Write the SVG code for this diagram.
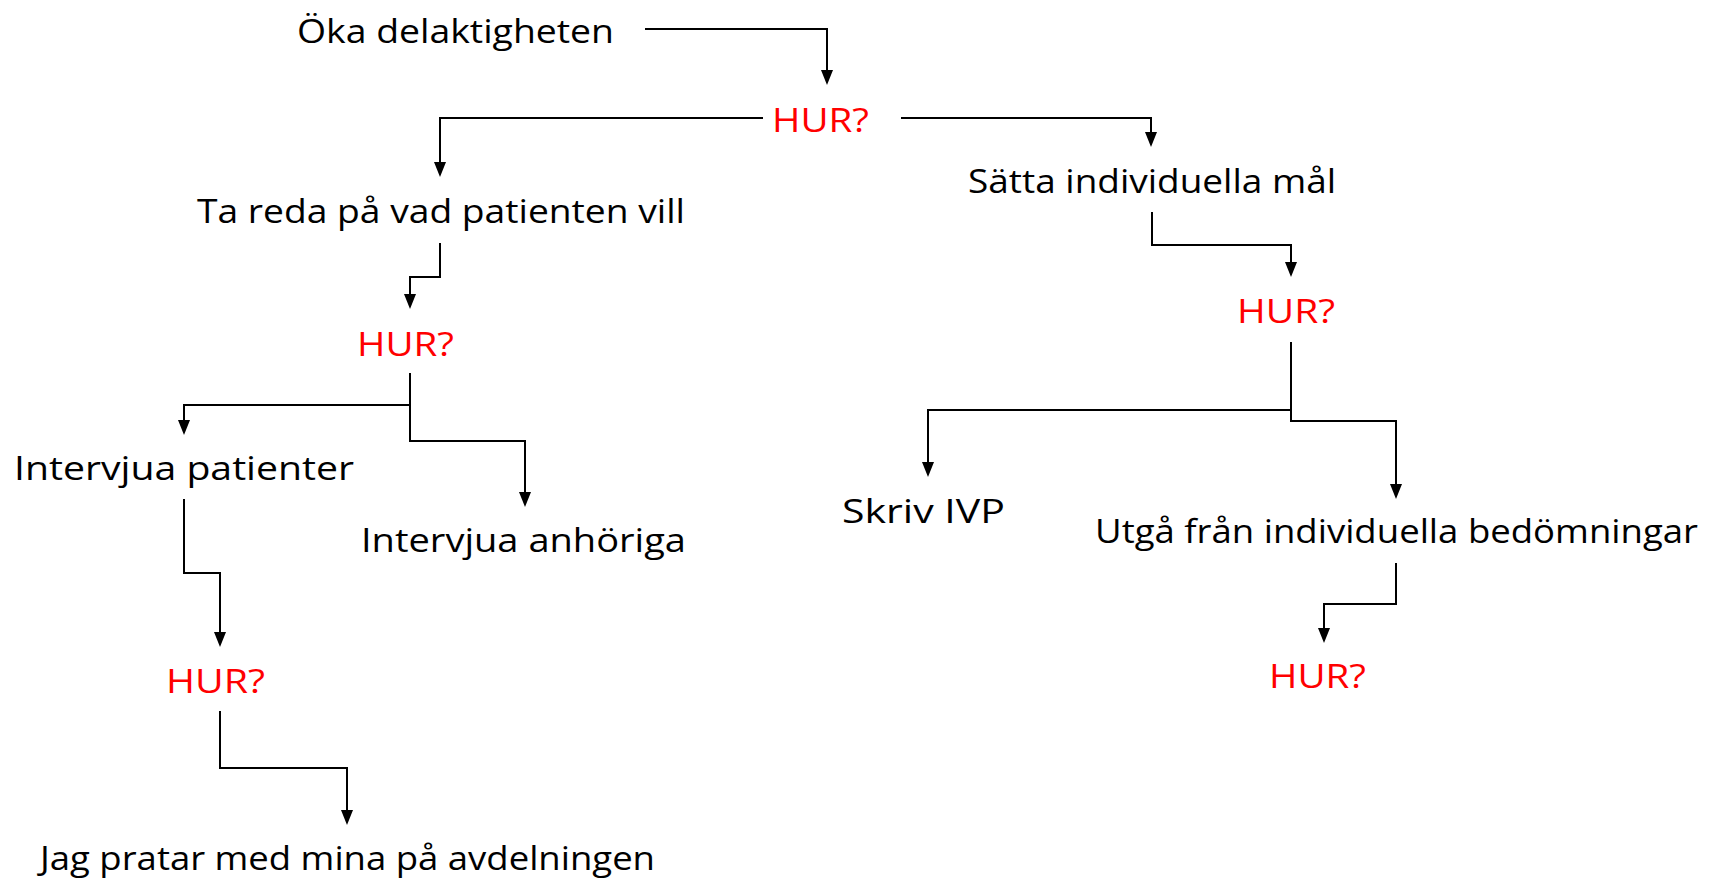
<svg xmlns="http://www.w3.org/2000/svg" width="1710" height="881" viewBox="0 0 1710 881">
  <style>
    .lbl { font-family: "Comic Sans MS", "Open Sans", "Noto Sans", sans-serif; font-size: 32px; fill: #000000; }
    .hur { font-family: "Comic Sans MS", "Open Sans", "Noto Sans", sans-serif; font-size: 32px; fill: #FF0000; }
    .wire { fill: none; stroke: #000000; stroke-width: 2; }
  </style>
  <defs>
    <!-- downward arrowhead, tip at (0,0) -->
    <path id="head" d="M-6,-15 L6,-15 L0,0 Z" fill="#000000"/>
  </defs>
  <rect width="1710" height="881" fill="#FFFFFF"/>

  <!-- connectors -->
  <g id="connectors">
    <path class="wire" d="M645,29 H827 V70"/>
    <path class="wire" d="M763,118 H440 V162"/>
    <path class="wire" d="M901,118 H1151 V132"/>
    <path class="wire" d="M1152,212 V245 H1291 V262"/>
    <path class="wire" d="M440,243 V277 H410 V294"/>
    <path class="wire" d="M410,373 V441 H525 V492"/>
    <path class="wire" d="M410,405 H184 V420"/>
    <path class="wire" d="M184,499 V573 H220 V632"/>
    <path class="wire" d="M220,711 V768 H347 V810"/>
    <path class="wire" d="M1291,342 V421 H1396 V484"/>
    <path class="wire" d="M1291,410 H928 V462"/>
    <path class="wire" d="M1396,563 V604 H1324 V628"/>
    <use href="#head" x="827" y="85"/>
    <use href="#head" x="440" y="177"/>
    <use href="#head" x="1151" y="147"/>
    <use href="#head" x="1291" y="277"/>
    <use href="#head" x="410" y="309"/>
    <use href="#head" x="525" y="507"/>
    <use href="#head" x="184" y="435"/>
    <use href="#head" x="220" y="647"/>
    <use href="#head" x="347" y="825"/>
    <use href="#head" x="1396" y="499"/>
    <use href="#head" x="928" y="477"/>
    <use href="#head" x="1324" y="643"/>
  </g>

  <!-- nodes -->
  <g id="n-oka"><text class="lbl" x="297" y="43" textLength="317" lengthAdjust="spacingAndGlyphs">Öka delaktigheten</text></g>
  <g id="n-hur1"><text class="hur" x="772" y="132" textLength="97" lengthAdjust="spacingAndGlyphs">HUR?</text></g>
  <g id="n-tareda"><text class="lbl" x="197" y="223" textLength="488" lengthAdjust="spacingAndGlyphs">Ta reda på vad patienten vill</text></g>
  <g id="n-satta"><text class="lbl" x="968" y="193" textLength="368" lengthAdjust="spacingAndGlyphs">Sätta individuella mål</text></g>
  <g id="n-hur2"><text class="hur" x="357" y="356" textLength="97" lengthAdjust="spacingAndGlyphs">HUR?</text></g>
  <g id="n-hur3"><text class="hur" x="1237" y="323" textLength="98" lengthAdjust="spacingAndGlyphs">HUR?</text></g>
  <g id="n-intpat"><text class="lbl" x="14" y="480" textLength="340" lengthAdjust="spacingAndGlyphs">Intervjua patienter</text></g>
  <g id="n-intanh"><text class="lbl" x="361" y="552" textLength="325" lengthAdjust="spacingAndGlyphs">Intervjua anhöriga</text></g>
  <g id="n-hur4"><text class="hur" x="166" y="693" textLength="99" lengthAdjust="spacingAndGlyphs">HUR?</text></g>
  <g id="n-jag"><text class="lbl" x="40" y="870" textLength="615" lengthAdjust="spacingAndGlyphs">Jag pratar med mina på avdelningen</text></g>
  <g id="n-skriv"><text class="lbl" x="842" y="523" textLength="163" lengthAdjust="spacingAndGlyphs">Skriv IVP</text></g>
  <g id="n-utga"><text class="lbl" x="1095" y="543" textLength="603" lengthAdjust="spacingAndGlyphs">Utgå från individuella bedömningar</text></g>
  <g id="n-hur5"><text class="hur" x="1269" y="688" textLength="97" lengthAdjust="spacingAndGlyphs">HUR?</text></g>
</svg>
